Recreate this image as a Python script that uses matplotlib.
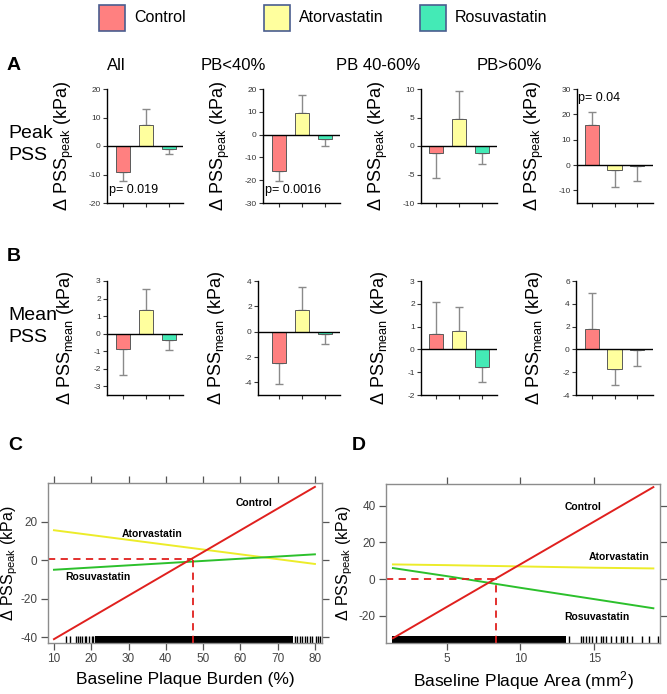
import numpy as np
import matplotlib
matplotlib.use('Agg')
import matplotlib.pyplot as plt
from matplotlib.patches import Rectangle

plt.rcParams['font.family'] = ['Liberation Sans', 'DejaVu Sans']
plt.rcParams['mathtext.fontset'] = 'custom'
plt.rcParams['mathtext.rm'] = 'Liberation Sans'
plt.rcParams['mathtext.it'] = 'Liberation Sans'
plt.rcParams['axes.unicode_minus'] = False

W, H = 667, 694

# ---- data ----
treatments = ['Control', 'Atorvastatin', 'Rosuvastatin']
bar_colors = ['#ff8080', '#ffff9e', '#44eab6']
groups = ['All', 'PB<40%', 'PB 40-60%', 'PB>60%']

peak_mean = [[-9.0, 7.2, -0.9], [-16.0, 9.3, -2.0], [-1.2, 4.8, -1.2], [15.6, -2.0, -0.3]]
peak_err = [[3.3, 5.8, 2.0], [4.5, 7.9, 3.2], [4.4, 4.8, 1.9], [5.2, 6.8, 6.1]]
peak_ylim = [(-20, 20), (-30, 20), (-10, 10), (-15, 30)]
peak_ticks = [[-20, -10, 0, 10, 20], [-30, -20, -10, 0, 10, 20], [-10, -5, 0, 5, 10], [-10, 0, 10, 20, 30]]
peak_p = ['p= 0.019', 'p= 0.0016', '', 'p= 0.04']

mean_mean = [[-0.88, 1.33, -0.38], [-2.45, 1.7, -0.2], [0.67, 0.8, -0.78], [1.8, -1.7, -0.08]]
mean_err = [[1.47, 1.22, 0.57], [1.7, 1.8, 0.75], [1.4, 1.05, 0.64], [3.15, 1.4, 1.37]]
mean_ylim = [(-3.5, 3), (-5, 4), (-2, 3), (-4, 6)]
mean_ticks = [[-3, -2, -1, 0, 1, 2, 3], [-4, -2, 0, 2, 4], [-2, -1, 0, 1, 2, 3], [-4, -2, 0, 2, 4, 6]]

# panel C: peak PSS vs baseline plaque burden
c_x = [10, 80]
c_control = [-41, 38]
c_atorva = [15.5, -2]
c_rosuva = [-5, 3]
c_cross = (47.3, 0.7)
c_rug_lo = [13.1, 14.3, 15.9, 16.4, 17.0, 17.6, 18.2, 18.7, 19.5, 20.1, 20.6]
c_rug_dense = (21.0, 74.2)
c_rug_hi = [74.6, 75.3, 75.9, 76.5, 77.4, 78.0, 78.6, 79.3, 80.2, 80.8, 81.3]

# panel D: peak PSS vs baseline plaque area
d_x = [1.36, 5, 10, 15, 19]
d_control = [-32.4, -15.3, 8.1, 31.5, 50.3]
d_atorva = [8.0, 7.6, 6.9, 6.2, 5.8]
d_rosuva = [6.0, 1.6, -4.8, -11.0, -16.0]
d_cross = (8.32, 0.0)
d_rug_dense = (1.27, 13.1)
d_rug_hi = [13.31, 14.08, 14.26, 14.44, 14.66, 14.87, 15.09, 15.43, 15.61, 15.79,
            16.11, 16.45, 16.79, 16.96, 17.24, 17.57, 18.21, 18.7, 19.33]

fig = plt.figure(figsize=(W / 100, H / 100), dpi=100)


def px_axes(l, t, r, b):
    return fig.add_axes([l / W, 1 - b / H, (r - l) / W, (b - t) / H])


def ftext(x, y, s, **kw):
    fig.text(x / W, 1 - y / H, s, **kw)


# ---- legend ----
for sq_x, name, col in zip([99, 264, 420], treatments, bar_colors):
    fig.patches.append(Rectangle((sq_x / W, 1 - 31 / H), 26 / W, 26 / H, transform=fig.transFigure,
                                 facecolor=col, edgecolor='#4a5d8f', lw=1.2))
    ftext(sq_x + 35, 18, name, fontsize=11.5, va='center', ha='left')

# ---- row labels ----
ftext(7, 66, 'A', fontsize=14, fontweight='bold', va='center')
ftext(7, 257, 'B', fontsize=14, fontweight='bold', va='center')
ftext(8, 133, 'Peak', fontsize=14, va='center')
ftext(8, 156, 'PSS', fontsize=14, va='center')
ftext(8, 315, 'Mean', fontsize=14, va='center')
ftext(8, 338, 'PSS', fontsize=14, va='center')

title_x = [116, 233, 378, 509]
for tx, g in zip(title_x, groups):
    ftext(tx, 66, g, fontsize=12, ha='center', va='center')


def bar_panel(spine, end, first, step, top, bottom, means, errs, ylim, ticks, ylabel, ptext=None, pxy=None):
    ax = px_axes(spine, top, end, bottom)
    x = np.arange(3)
    lo = [e if m < 0 else 0 for m, e in zip(means, errs)]
    hi = [e if m >= 0 else 0 for m, e in zip(means, errs)]
    ax.bar(x, means, width=0.65, color=bar_colors, edgecolor='#5a5a5a', lw=0.7, zorder=2)
    ax.errorbar(x, means, yerr=[lo, hi], fmt='none', ecolor='#8a8a8a', elinewidth=1,
                capsize=3, capthick=1, zorder=1)
    ax.axhline(0, color='black', lw=1, zorder=3)
    ax.set_xlim(-(first - spine) / step, 2 + (end - first - 2 * step) / step)
    ax.set_ylim(*ylim)
    ax.set_yticks(ticks)
    ax.set_xticks(x)
    ax.set_xticklabels([])
    for s in ['top', 'right']:
        ax.spines[s].set_visible(False)
    for s in ['left', 'bottom']:
        ax.spines[s].set_linewidth(1)
    ax.tick_params(axis='both', direction='out', length=3, width=0.8, labelsize=6, colors='#333333', pad=1.5)
    ax.set_ylabel(ylabel, fontsize=13)
    ax.yaxis.set_label_coords(-31 / (end - spine), 0.5)
    if ptext:
        ax.text(pxy[0], pxy[1], ptext, fontsize=9, ha='left', va='center')
    return ax


a_spine = [107, 263, 421, 577]
a_end = [183, 340, 497, 653]
first_c = [123, 279, 436, 592]
steps = [23, 23, 23, 22.5]
b_spine = [107, 258, 421, 576]
p_pos = [(-0.6, -15.5), (-0.6, -24.5), None, (-0.6, 26.5)]

for i in range(4):
    bar_panel(a_spine[i], a_end[i], first_c[i], steps[i], 89, 203, peak_mean[i], peak_err[i],
              peak_ylim[i], peak_ticks[i], r'$\Delta$ PSS$_{\mathregular{peak}}$ (kPa)',
              peak_p[i], p_pos[i])
    bar_panel(b_spine[i], a_end[i], first_c[i], steps[i], 281, 395, mean_mean[i], mean_err[i],
              mean_ylim[i], mean_ticks[i], r'$\Delta$ PSS$_{\mathregular{mean}}$ (kPa)')


# ---- panels C and D (lattice style) ----
line_cols = {'Control': '#e0201e', 'Atorvastatin': '#ecec2a', 'Rosuvastatin': '#2cc02c'}


def lattice_axes(box, xlim, ylim, xticks, yticks):
    ax = px_axes(*box)
    ax.set_xlim(*xlim)
    ax.set_ylim(*ylim)
    ax.set_xticks(xticks)
    ax.set_yticks(yticks)
    for s in ax.spines.values():
        s.set_color('#8c8c8c')
        s.set_linewidth(1)
    ax.tick_params(direction='out', top=True, right=True, labeltop=False, labelright=False,
                   length=5, width=0.9, color='#555555', labelcolor='#444444', labelsize=8.5, pad=2.5)
    return ax


axc = lattice_axes((48, 483, 322, 643), (8.4, 81.9), (-43, 40), [10, 20, 30, 40, 50, 60, 70, 80], [-40, -20, 0, 20])
axc.vlines(c_rug_lo + c_rug_hi, 0, 0.045, transform=axc.get_xaxis_transform(), color='black', lw=1)
axc.axvspan(c_rug_dense[0], c_rug_dense[1], 0, 0.045, color='black', lw=0)
axc.plot(c_x, c_atorva, color=line_cols['Atorvastatin'], lw=1.4)
axc.plot(c_x, c_rosuva, color=line_cols['Rosuvastatin'], lw=1.4)
axc.plot(c_x, c_control, color=line_cols['Control'], lw=1.4)
axc.hlines(c_cross[1], axc.get_xlim()[0], c_cross[0], color='#e0201e', lw=1.3, linestyles=(0, (4, 3)))
axc.vlines(c_cross[0], axc.get_ylim()[0], c_cross[1], color='#e0201e', lw=1.3, linestyles=(0, (4, 3)))
axc.text(63.6, 29.7, 'Control', fontsize=7.5, fontweight='bold', ha='center', va='center')
axc.text(36.2, 13.8, 'Atorvastatin', fontsize=7.5, fontweight='bold', ha='center', va='center')
axc.text(21.9, -9, 'Rosuvastatin', fontsize=7.5, fontweight='bold', ha='center', va='center')
axc.set_xlabel('Baseline Plaque Burden (%)', fontsize=12.5, labelpad=5)
axc.set_ylabel(r'$\Delta$ PSS$_{\mathregular{peak}}$ (kPa)', fontsize=11.5)
axc.yaxis.set_label_coords(-28 / 274, 0.5)

axd = lattice_axes((386, 484, 660, 643), (0.89, 19.45), (-35, 52), [5, 10, 15], [-20, 0, 20, 40])
axd.vlines(d_rug_hi, 0, 0.045, transform=axd.get_xaxis_transform(), color='black', lw=1)
axd.axvspan(d_rug_dense[0], d_rug_dense[1], 0, 0.045, color='black', lw=0)
axd.plot(d_x, d_atorva, color=line_cols['Atorvastatin'], lw=1.4)
axd.plot(d_x, d_rosuva, color=line_cols['Rosuvastatin'], lw=1.4)
axd.plot(d_x, d_control, color=line_cols['Control'], lw=1.4)
axd.hlines(d_cross[1], axd.get_xlim()[0], d_cross[0], color='#e0201e', lw=1.3, linestyles=(0, (4, 3)))
axd.vlines(d_cross[0], axd.get_ylim()[0], d_cross[1], color='#e0201e', lw=1.3, linestyles=(0, (4, 3)))
axd.text(14.25, 39.3, 'Control', fontsize=7.5, fontweight='bold', ha='center', va='center')
axd.text(16.7, 11.9, 'Atorvastatin', fontsize=7.5, fontweight='bold', ha='center', va='center')
axd.text(15.2, -20.7, 'Rosuvastatin', fontsize=7.5, fontweight='bold', ha='center', va='center')
axd.set_xlabel(r'Baseline Plaque Area (mm$^{\mathregular{2}}$)', fontsize=12.5, labelpad=3)
axd.set_ylabel(r'$\Delta$ PSS$_{\mathregular{peak}}$ (kPa)', fontsize=11.5)
axd.yaxis.set_label_coords(-31 / 274, 0.5)

ftext(8, 445, 'C', fontsize=14, fontweight='bold', va='center')
ftext(352, 445, 'D', fontsize=14, fontweight='bold', va='center')

fig.savefig('out.png', dpi=100)
